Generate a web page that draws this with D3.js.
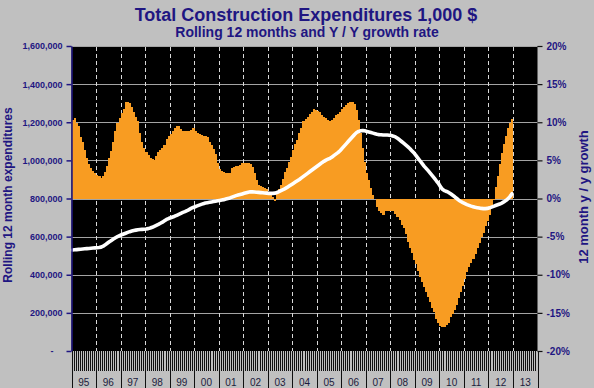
<!DOCTYPE html>
<html><head><meta charset="utf-8">
<script src="https://cdn.jsdelivr.net/npm/d3@7"></script>
<style>
html,body{margin:0;padding:0;background:#c0c0c0;}
svg{display:block;font-family:Arial,"Liberation Sans",sans-serif;}
</style></head><body>
<svg id="chart" width="594" height="388"></svg>
<script>
// ---------------- DATA ----------------
const yearLabels = ["95","96","97","98","99","00","01","02","03","04","05","06","07","08","09","10","11","12","13"];

// Y/Y growth rate of rolling 12 month expenditures (%), monthly Jan-1995 .. Dec-2012
const growthPct = [
  10.3,10.5,9.9,9.5,8.1,7.4,6.4,5.3,4.5,4.0,3.6,3.3,
  3.1,2.95,2.7,3.0,3.5,4.3,5.3,6.2,7.4,8.8,9.9,10.6,
  11.2,11.7,12.6,12.7,12.5,12.0,11.4,10.7,10.2,8.6,7.4,6.6,
  6.1,5.7,5.3,5.2,5.1,5.6,6.1,6.4,6.6,7.0,7.8,8.2,
  8.5,8.8,9.3,9.5,9.5,9.1,8.9,8.9,8.8,8.9,9.0,9.2,
  8.9,8.6,8.5,8.3,8.2,8.2,8.1,7.4,7.0,6.5,5.8,4.6,
  3.9,3.6,3.5,3.4,3.3,3.4,4.0,4.1,4.2,4.3,4.4,4.6,
  4.7,4.7,4.7,4.5,4.1,3.4,2.4,1.8,1.6,1.5,1.4,1.2,
  0.9,0.6,0.2,-0.3,0.7,1.3,1.8,2.6,3.5,4.0,4.8,5.5,
  6.4,7.2,7.7,8.6,9.2,10.1,10.4,10.7,11.1,11.4,11.7,11.6,
  11.5,11.3,11.0,10.7,10.5,10.3,10.1,10.3,10.5,10.9,11.1,11.4,
  11.7,12.0,12.3,12.5,12.7,12.7,12.4,11.6,10.3,8.6,6.6,4.8,
  3.4,2.4,1.4,0.5,-0.1,-1.1,-1.7,-1.9,-2.1,-1.7,-1.6,-1.6,
  -1.6,-1.7,-2.0,-2.4,-2.8,-3.5,-3.9,-4.6,-5.7,-6.5,-7.2,-8.1,
  -8.6,-9.5,-10.3,-10.9,-11.6,-12.2,-12.9,-13.6,-14.3,-14.9,-15.8,-16.3,
  -16.7,-16.9,-16.9,-16.6,-16.3,-15.6,-15.1,-14.6,-14.0,-13.0,-12.3,-11.5,
  -10.5,-9.7,-9.0,-8.5,-7.9,-7.3,-6.5,-5.9,-5.1,-4.5,-3.6,-3.0,
  -2.2,-1.3,-0.2,1.5,3.0,4.5,6.0,7.1,8.2,9.2,9.9,10.4
];

// Rolling 12 month expenditures (1,000 $), monthly Jan-1995 .. Dec-2012
const rolling12 = [
  530000,531000,532000,533000,534000,535000,536000,537000,538000,539000,540000,541000,
  542000,543000,545000,550000,557000,565000,573000,580000,587000,594000,600000,605000,
  610000,614000,618000,622000,626000,629000,632000,634000,636000,637000,638000,639000,
  640000,642000,645000,649000,654000,659000,664000,670000,676000,683000,690000,695000,
  699000,703000,707000,712000,717000,722000,727000,731000,736000,742000,748000,753000,
  757000,761000,765000,769000,773000,776000,778000,780000,782000,784000,786000,788000,
  790000,792000,794000,797000,800000,803000,807000,811000,815000,818000,821000,824000,
  827000,830000,833000,835000,835000,834000,833000,832000,831000,830000,829000,828000,
  827000,827000,827000,828000,831000,836000,841000,846000,852000,858000,865000,872000,
  879000,886000,893000,900000,908000,916000,924000,932000,940000,948000,956000,964000,
  972000,980000,988000,995000,1001000,1006000,1011000,1018000,1026000,1034000,1042000,1052000,
  1064000,1076000,1088000,1100000,1112000,1124000,1136000,1146000,1152000,1155000,1156000,1155000,
  1152000,1149000,1146000,1143000,1140000,1137000,1135000,1134000,1133000,1133000,1133000,1132000,
  1130000,1127000,1123000,1116000,1108000,1099000,1090000,1081000,1072000,1062000,1051000,1040000,
  1026000,1012000,998000,984000,970000,958000,946000,933000,920000,907000,893000,880000,
  862000,848000,841000,837000,832000,825000,817000,809000,800000,791000,784000,778000,
  773000,768000,764000,760000,757000,754000,752000,750000,748000,747000,747000,748000,
  751000,755000,759000,763000,767000,771000,776000,782000,789000,798000,810000,825000
];

const leftTicks = [0,200000,400000,600000,800000,1000000,1200000,1400000,1600000];
const rightTicks = [-20,-15,-10,-5,0,5,10,15,20];

const titleText = "Total Construction Expenditures 1,000 $";
const subtitleText = "Rolling 12 months and Y / Y growth rate";
const leftTitle = "Rolling 12 month expenditures";
const rightTitle = "12 month y / y growth";

// ---------------- LAYOUT ----------------
const navy = "#1f1682";
const plot = {left: 71.5, right: 537.5, top: 46, bottom: 351};
const nMonths = yearLabels.length * 12;

const svg = d3.select("#chart");
svg.append("rect").attr("width",594).attr("height",388).attr("fill","#c0c0c0");

const x = d3.scaleBand().domain(d3.range(nMonths)).range([plot.left, plot.right]).padding(0);
const xb = i => i >= nMonths ? plot.right : x(i);
const yL = d3.scaleLinear().domain([0,1600000]).range([plot.bottom, plot.top]);
const yR = d3.scaleLinear().domain([-20,20]).range([plot.bottom, plot.top]);

// plot background
svg.append("rect").attr("x",plot.left).attr("y",plot.top)
  .attr("width",plot.right-plot.left).attr("height",plot.bottom-plot.top).attr("fill","#000");

// horizontal gridlines
svg.append("g").selectAll("line").data(leftTicks.filter(d=>d>0)).join("line")
  .attr("x1",plot.left).attr("x2",plot.right)
  .attr("y1",d=>Math.round(yL(d))+0.5).attr("y2",d=>Math.round(yL(d))+0.5)
  .attr("stroke","#a4a4a4").attr("stroke-width",1);

// vertical dashed year gridlines
const yearIdx = d3.range(1, yearLabels.length);
svg.append("g").selectAll("line").data(yearIdx).join("line")
  .attr("x1",d=>Math.round(xb(d*12))+0.5).attr("x2",d=>Math.round(xb(d*12))+0.5)
  .attr("y1",plot.top+1).attr("y2",plot.bottom)
  .attr("stroke","#d8d8d8").attr("stroke-width",1).attr("stroke-dasharray","4,3");

// growth bars
svg.append("g").attr("shape-rendering","crispEdges").selectAll("rect").data(growthPct).join("rect")
  .attr("x",(d,i)=>x(i)).attr("width",x.bandwidth()+0.4)
  .attr("y",d=>yR(Math.max(0,d))).attr("height",d=>Math.abs(yR(d)-yR(0)))
  .attr("fill","#f89c22");

// rolling line
const line = d3.line().x((d,i)=>x(i)+x.bandwidth()/2).y(d=>yL(d));
svg.append("path").datum(rolling12).attr("d",line)
  .attr("fill","none").attr("stroke","#fff").attr("stroke-width",3.6)
  .attr("stroke-linejoin","round").attr("stroke-linecap","round");

// left axis
const axL = svg.append("g").attr("transform",`translate(${plot.left},0)`)
  .call(d3.axisLeft(yL).tickValues(leftTicks).tickSize(5).tickSizeOuter(0).tickPadding(4)
    .tickFormat(d => d===0 ? "-" : d3.format(",")(d)));
axL.select(".domain").attr("stroke",navy).attr("stroke-width",1.5);
axL.selectAll(".tick line").attr("stroke",navy).attr("stroke-width",1.5);
axL.selectAll(".tick text").attr("fill",navy).attr("font-size",9).attr("font-weight","bold")
  .attr("font-family","Arial, 'Liberation Sans', sans-serif")
  .attr("dx",d=>d===0 ? -9 : 0);

// right axis
const axR = svg.append("g").attr("transform",`translate(${plot.right},0)`)
  .call(d3.axisRight(yR).tickValues(rightTicks).tickSize(5).tickSizeOuter(0).tickPadding(4)
    .tickFormat(d => d + "%"));
axR.select(".domain").remove();
axR.selectAll(".tick line").attr("stroke","#111").attr("stroke-width",1.2);
axR.selectAll(".tick text").attr("fill",navy).attr("font-size",10).attr("font-weight","bold")
  .attr("font-family","Arial, 'Liberation Sans', sans-serif");

// month tick strip
svg.append("g").attr("shape-rendering","crispEdges").selectAll("line").data(d3.range(nMonths+1)).join("line")
  .attr("x1",d=>Math.round(xb(d))+0.5).attr("x2",d=>Math.round(xb(d))+0.5)
  .attr("y1",plot.bottom).attr("y2",371)
  .attr("stroke","#111").attr("stroke-width",1);

// year separators
svg.append("g").attr("shape-rendering","crispEdges").selectAll("line").data(d3.range(yearLabels.length+1)).join("line")
  .attr("x1",d=>Math.round(xb(d*12))+0.5).attr("x2",d=>Math.round(xb(d*12))+0.5)
  .attr("y1",371).attr("y2",388)
  .attr("stroke","#111").attr("stroke-width",1);

// year labels
svg.append("g").selectAll("text").data(yearLabels).join("text")
  .attr("x",(d,k)=>(xb(k*12)+xb(k*12+12))/2).attr("y",386)
  .attr("text-anchor","middle").attr("font-size",10).attr("fill","#1c1c3c")
  .text(d=>d);

// titles
svg.append("text").attr("x",306).attr("y",21).attr("text-anchor","middle")
  .attr("font-size",18).attr("font-weight","bold").attr("fill",navy).text(titleText);
svg.append("text").attr("x",307).attr("y",37).attr("text-anchor","middle")
  .attr("font-size",14).attr("font-weight","bold").attr("fill",navy).text(subtitleText);

svg.append("text").attr("transform","translate(12,195) rotate(-90)").attr("text-anchor","middle")
  .attr("font-size",12).attr("font-weight","bold").attr("fill",navy).text(leftTitle);
svg.append("text").attr("transform","translate(588,197) rotate(-90)").attr("text-anchor","middle")
  .attr("font-size",13).attr("font-weight","bold").attr("fill",navy).text(rightTitle);
</script>
</body></html>
